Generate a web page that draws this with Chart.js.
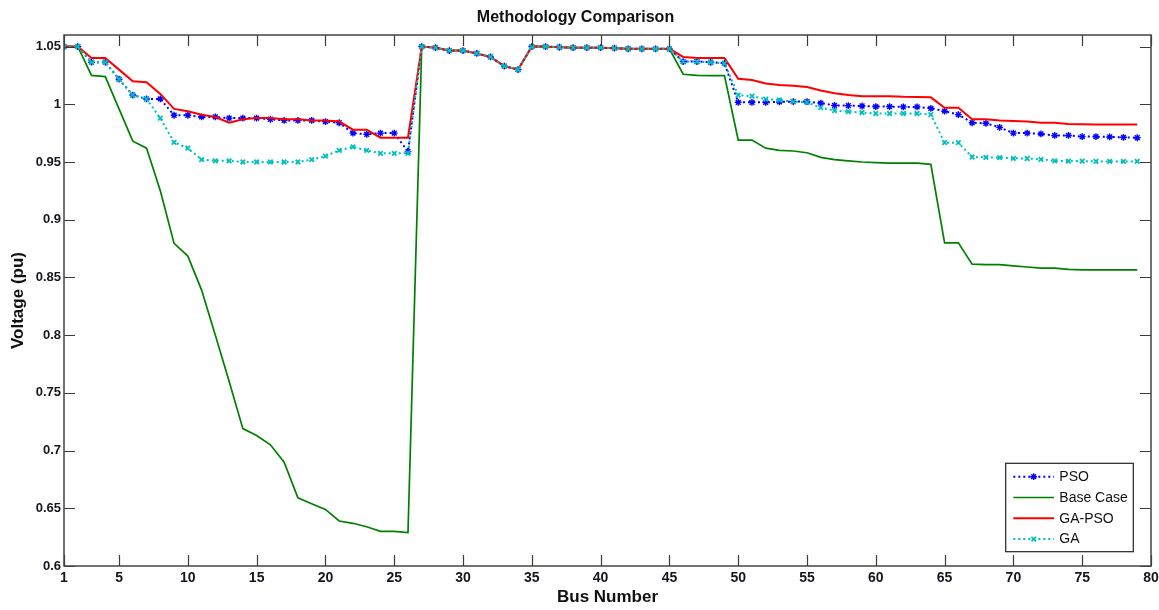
<!DOCTYPE html>
<html>
<head>
<meta charset="utf-8">
<script src="https://cdn.jsdelivr.net/npm/chart.js@4.4.1/dist/chart.umd.min.js"></script>
<style>
  html, body { margin: 0; padding: 0; background: #ffffff; }
  #wrap { width: 1159px; height: 610px; }
</style>
</head>
<body>
<div id="wrap"><canvas id="c" width="1159" height="610"></canvas></div>
<script>
// ---------------- data ----------------
const buses = [1,2,3,4,5,6,7,8,9,10,11,12,13,14,15,16,17,18,19,20,21,22,23,24,25,26,27,28,29,30,
  31,32,33,34,35,36,37,38,39,40,41,42,43,44,45,46,47,48,49,50,51,52,53,54,55,56,57,58,59,60,
  61,62,63,64,65,66,67,68,69,70,71,72,73,74,75,76,77,78,79];

const psoValues = [1.050,1.050,1.0365,1.0365,1.0217,1.008,1.0046,1.0046,0.9905,0.9905,
  0.989,0.989,0.988,0.988,0.988,0.987,0.986,0.986,0.986,0.985,
  0.984,0.975,0.974,0.975,0.975,0.959,1.050,1.049,1.0465,1.0465,
  1.044,1.041,1.033,1.030,1.050,1.050,1.0494,1.049,1.049,1.049,
  1.0486,1.048,1.048,1.048,1.048,1.037,1.037,1.0364,1.0355,1.0017,
  1.0017,1.0017,1.002,1.0023,1.0023,1.001,0.999,0.9988,0.9985,0.998,
  0.998,0.9977,0.9977,0.9965,0.994,0.991,0.984,0.9835,0.980,0.975,
  0.975,0.9743,0.973,0.973,0.972,0.972,0.9717,0.9714,0.971];

const baseCaseValues = [1.050,1.050,1.025,1.024,0.996,0.968,0.962,0.925,0.8795,0.8685,
  0.839,0.800,0.760,0.719,0.713,0.705,0.690,0.659,0.654,0.649,
  0.639,0.637,0.634,0.630,0.630,0.629,1.050,1.049,1.0465,1.0465,
  1.044,1.041,1.033,1.030,1.050,1.050,1.0494,1.049,1.049,1.049,
  1.0486,1.048,1.048,1.048,1.048,1.026,1.025,1.0248,1.0248,0.969,
  0.969,0.962,0.960,0.9595,0.958,0.954,0.952,0.951,0.950,0.9494,
  0.949,0.949,0.949,0.948,0.880,0.880,0.8615,0.861,0.861,0.860,
  0.859,0.858,0.858,0.857,0.8566,0.8566,0.8566,0.8566,0.8566];

const gaPsoValues = [1.050,1.050,1.040,1.040,1.030,1.020,1.019,1.009,0.996,0.994,
  0.991,0.989,0.984,0.987,0.988,0.988,0.987,0.987,0.986,0.986,
  0.985,0.978,0.978,0.971,0.971,0.971,1.050,1.049,1.0465,1.0465,
  1.044,1.041,1.033,1.030,1.050,1.050,1.0494,1.049,1.049,1.049,
  1.0486,1.048,1.048,1.048,1.048,1.041,1.040,1.040,1.040,1.022,
  1.021,1.018,1.0167,1.016,1.015,1.012,1.0095,1.008,1.007,1.007,
  1.007,1.0064,1.0062,1.006,0.997,0.997,0.987,0.987,0.986,0.9855,
  0.985,0.984,0.984,0.983,0.9826,0.9824,0.9824,0.9824,0.9824];

const gaValues = [1.050,1.050,1.0365,1.0365,1.0217,1.008,1.0046,0.988,0.967,0.962,
  0.952,0.951,0.951,0.950,0.950,0.950,0.950,0.950,0.952,0.955,
  0.960,0.963,0.960,0.9575,0.9575,0.9575,1.050,1.049,1.0465,1.0465,
  1.044,1.041,1.033,1.030,1.050,1.050,1.0494,1.049,1.049,1.049,
  1.0486,1.048,1.048,1.048,1.048,1.037,1.037,1.0364,1.0355,1.008,
  1.007,1.0045,1.0037,1.0023,1.0017,0.997,0.9945,0.9936,0.9928,0.992,
  0.992,0.992,0.992,0.991,0.9667,0.9667,0.9543,0.954,0.9537,0.9532,
  0.953,0.9523,0.951,0.9508,0.9508,0.9505,0.9505,0.9505,0.9505];

const seriesNames = ["PSO", "Base Case", "GA-PSO", "GA"];
const xTickValues = [1,5,10,15,20,25,30,35,40,45,50,55,60,65,70,75,80];
const yTickValues = [0.6,0.65,0.7,0.75,0.8,0.85,0.9,0.95,1,1.05];
const yTickLabels = ["0.6","0.65","0.7","0.75","0.8","0.85","0.9","0.95","1","1.05"];

// ---------------- chart ----------------
const FONT = "'Liberation Sans', Arial, Helvetica, sans-serif";
const toPts = vals => buses.map((b, i) => ({ x: b, y: vals[i] }));

const frameAndTicks = {
  id: 'frameAndTicks',
  afterDatasetsDraw(chart) {
    const { ctx, chartArea: a, scales: { x, y } } = chart;
    ctx.save();
    ctx.strokeStyle = '#3a3a3a';
    ctx.lineWidth = 1.2;
    ctx.beginPath();
    const L = 11;
    xTickValues.forEach(v => {
      const px = Math.round(x.getPixelForValue(v)) + 0.5;
      ctx.moveTo(px, a.bottom); ctx.lineTo(px, a.bottom - L);
      ctx.moveTo(px, a.top); ctx.lineTo(px, a.top + L);
    });
    yTickValues.forEach(v => {
      const py = Math.round(y.getPixelForValue(v)) + 0.5;
      ctx.moveTo(a.left, py); ctx.lineTo(a.left + L, py);
      ctx.moveTo(a.right, py); ctx.lineTo(a.right - L, py);
    });
    ctx.stroke();
    ctx.lineWidth = 1.5;
    ctx.strokeStyle = '#444444';
    ctx.strokeRect(a.left, a.top, a.right - a.left, a.bottom - a.top);
    ctx.restore();
  },
  afterDraw(chart) {
    const { ctx, chartArea: a } = chart;
    const boxW = 127.6, boxH = 88.4;
    const bx = a.right - 17.7 - boxW;
    const by = a.bottom - 14.3 - boxH;
    ctx.save();
    ctx.fillStyle = '#ffffff';
    ctx.fillRect(bx, by, boxW, boxH);
    ctx.strokeStyle = '#222222';
    ctx.lineWidth = 1.2;
    ctx.strokeRect(bx, by, boxW, boxH);
    const dsList = chart.data.datasets;
    ctx.font = '14px ' + FONT;
    ctx.textBaseline = 'middle';
    ctx.textAlign = 'left';
    seriesNames.forEach((name, i) => {
      const ds = dsList[i];
      const cy = by + 13.4 + i * 20.8;
      const x0 = bx + 7.6, x1 = bx + 48.3;
      ctx.save();
      ctx.strokeStyle = ds.borderColor;
      ctx.lineWidth = ds.borderWidth;
      ctx.setLineDash(ds.borderDash || []);
      ctx.beginPath();
      ctx.moveTo(x0, cy); ctx.lineTo(x1, cy);
      ctx.stroke();
      ctx.restore();
      if (ds.pointRadius > 0 && Chart.helpers && Chart.helpers.drawPoint) {
        ctx.save();
        ctx.strokeStyle = ds.pointBorderColor || ds.borderColor;
        ctx.fillStyle = ds.pointBackgroundColor || ds.borderColor;
        ctx.lineWidth = ds.pointBorderWidth || 1;
        Chart.helpers.drawPoint(ctx, { pointStyle: ds.pointStyle, radius: ds.pointRadius, rotation: 0, borderWidth: ds.pointBorderWidth || 1 }, (x0 + x1) / 2, cy);
        ctx.restore();
      }
      ctx.fillStyle = '#111111';
      ctx.fillText(name, bx + 53.6, cy + 0.5);
    });
    ctx.restore();
  }
};

new Chart(document.getElementById('c'), {
  type: 'line',
  data: {
    datasets: [
      {
        label: seriesNames[0], data: toPts(psoValues),
        borderColor: '#0000ff', backgroundColor: '#0000ff', borderWidth: 2, borderDash: [2, 3],
        pointStyle: 'star', pointRadius: 3.4, pointBorderWidth: 1.4,
        pointBorderColor: '#0000ff', pointBackgroundColor: '#0000ff', order: 4
      },
      {
        label: seriesNames[1], data: toPts(baseCaseValues),
        borderColor: '#008000', backgroundColor: '#008000', borderWidth: 1.7,
        pointRadius: 0, order: 3
      },
      {
        label: seriesNames[2], data: toPts(gaPsoValues),
        borderColor: '#ff0000', backgroundColor: '#ff0000', borderWidth: 2,
        pointRadius: 0, order: 2
      },
      {
        label: seriesNames[3], data: toPts(gaValues),
        borderColor: '#00bfbf', backgroundColor: '#00bfbf', borderWidth: 2, borderDash: [2, 3],
        pointStyle: 'crossRot', pointRadius: 3.2, pointBorderWidth: 1.8,
        pointBorderColor: '#00bfbf', pointBackgroundColor: '#00bfbf', order: 1
      }
    ]
  },
  options: {
    responsive: false,
    animation: false,
    events: [],
    layout: { padding: { left: 0, right: 8, top: 0, bottom: 0 } },
    elements: { line: { tension: 0 } },
    plugins: {
      legend: { display: false },
      tooltip: { enabled: false },
      title: {
        display: true,
        text: 'Methodology Comparison',
        color: '#111111',
        font: { family: FONT, size: 16, weight: 'bold' },
        padding: { top: 8, bottom: 7.8 }
      }
    },
    scales: {
      x: {
        type: 'linear', min: 1, max: 80,
        afterBuildTicks: s => { s.ticks = xTickValues.map(v => ({ value: v })); },
        afterFit: s => { s.height = 44; s.paddingLeft = 0; s.paddingRight = 0; },
        grid: { display: false, drawTicks: false },
        border: { display: false },
        ticks: {
          color: '#151520', padding: 4, maxRotation: 0, autoSkip: false,
          font: { family: FONT, size: 14, weight: 'bold' },
          callback: v => String(v)
        },
        title: {
          display: true, text: 'Bus Number', color: '#111111',
          font: { family: FONT, size: 17, weight: 'bold' },
          padding: { top: 2, bottom: 2 }
        }
      },
      y: {
        type: 'linear', min: 0.6, max: 1.06,
        afterBuildTicks: s => { s.ticks = yTickValues.map(v => ({ value: v })); },
        afterFit: s => { s.width = 64; s.paddingTop = 0; s.paddingBottom = 0; },
        grid: { display: false, drawTicks: false },
        border: { display: false },
        ticks: {
          color: '#151520', padding: 3, autoSkip: false,
          font: { family: FONT, size: 13, weight: 'bold' },
          callback: (v) => { const i = yTickValues.findIndex(t => Math.abs(t - v) < 1e-9); return i >= 0 ? yTickLabels[i] : ''; }
        },
        title: {
          display: true, text: 'Voltage (pu)', color: '#111111',
          font: { family: FONT, size: 17, weight: 'bold' },
          padding: { top: 8, bottom: 8 }
        }
      }
    }
  },
  plugins: [frameAndTicks]
});
</script>
</body>
</html>
